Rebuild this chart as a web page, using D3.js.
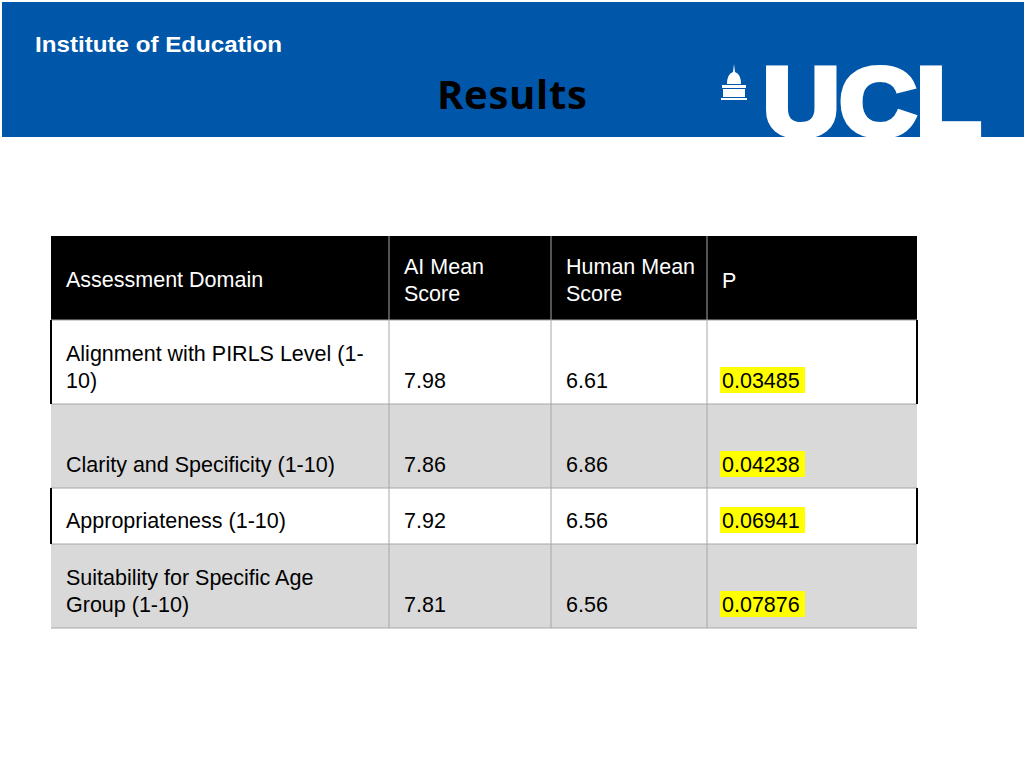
<!DOCTYPE html>
<html><head><meta charset="utf-8">
<script src="https://cdn.jsdelivr.net/npm/d3@7"></script>
<style>body{margin:0;background:#fff}</style>
</head><body><div id="vis"></div>
<script>
'use strict';

var headers = [["Assessment Domain"], ["AI Mean", "Score"], ["Human Mean", "Score"], ["P"]];
var domains = [["Alignment with PIRLS Level (1-", "10)"], ["Clarity and Specificity (1-10)"], ["Appropriateness (1-10)"], ["Suitability for Specific Age", "Group (1-10)"]];
var aiScores = [7.98, 7.86, 7.92, 7.81];
var humanScores = [6.61, 6.86, 6.56, 6.56];
var pValues = ["0.03485", "0.04238", "0.06941", "0.07876"];

var slide = {};
slide.w = 1024;
slide.h = 768;
slide.colEdges = [51, 389, 551, 707, 917];
slide.rowEdges = [236, 320, 404, 488, 544, 628];

slide.run = function() {
	var svg = d3.select("#vis").append("svg").attr("width", slide.w).attr("height", slide.h)
		.style("font-family", "'Liberation Sans', Arial, sans-serif");

	// banner
	svg.append("rect").attr("x", 2).attr("y", 2).attr("width", 1022).attr("height", 135).attr("fill", "#0056a8");
	svg.append("text").attr("x", 35).attr("y", 52).attr("fill", "#fff").attr("font-weight", "bold")
		.attr("font-size", 22).attr("textLength", 247).attr("lengthAdjust", "spacingAndGlyphs").text("Institute of Education");
	svg.append("text").attr("x", 512).attr("y", 109).attr("text-anchor", "middle").attr("font-weight", "bold")
		.attr("font-size", 40).attr("font-family", "'Open Sans', sans-serif").attr("textLength", 150).text("Results");
	// UCL wordmark
	svg.append("text").attr("x", 763).attr("y", 135).attr("fill", "#fff").attr("stroke", "#fff").attr("stroke-width", 6)
		.attr("font-weight", "bold").attr("font-size", 96).attr("textLength", 218).attr("lengthAdjust", "spacingAndGlyphs")
		.text("UCL");
	// small portico
	svg.append("path").attr("fill", "#fff")
		.attr("d", "M734,64 L735,72 Q741,74 741,84 L727,84 Q727,74 733,72 Z M722,85 L746,85 L746,88 L722,88 Z M723,89 L745,89 L745,97 L723,97 Z M721,98 L747,98 L747,100 L721,100 Z");

	// table
	var x = d3.scaleOrdinal().domain([0, 1, 2, 3]).range(slide.colEdges.slice(0, 4));
	var y = d3.scaleOrdinal().domain([0, 1, 2, 3, 4]).range(slide.rowEdges.slice(0, 5));
	var tw = slide.colEdges[4] - slide.colEdges[0];
	var fills = ["#000", "#fff", "#d9d9d9", "#fff", "#d9d9d9"];
	fills.forEach(function(f, i) {
		svg.append("rect").attr("x", slide.colEdges[0]).attr("y", y(i)).attr("width", tw)
			.attr("height", slide.rowEdges[i + 1] - slide.rowEdges[i]).attr("fill", f);
	});
	// grid lines
	[1, 2, 3].forEach(function(c) {
		svg.append("line").attr("x1", x(c)).attr("x2", x(c)).attr("y1", slide.rowEdges[0]).attr("y2", slide.rowEdges[5])
			.attr("stroke", "#a6a6a6").attr("stroke-width", 1);
	});
	[1, 2, 3, 4, 5].forEach(function(r) {
		svg.append("line").attr("x1", slide.colEdges[0]).attr("x2", slide.colEdges[4]).attr("y1", slide.rowEdges[r]).attr("y2", slide.rowEdges[r])
			.attr("stroke", "#a6a6a6").attr("stroke-width", 1);
	});
	// dark outer edges on white rows
	[1, 3].forEach(function(r) {
		[slide.colEdges[0], slide.colEdges[4]].forEach(function(xx) {
			svg.append("line").attr("x1", xx).attr("x2", xx).attr("y1", slide.rowEdges[r]).attr("y2", slide.rowEdges[r + 1])
				.attr("stroke", "#000").attr("stroke-width", 2);
		});
	});

	function cellText(lines, c, baseline, color) {
		var t = svg.append("text").attr("x", x(c) + 15).attr("fill", color).attr("font-size", 21.5);
		lines.forEach(function(l, i) { t.append("tspan").attr("x", x(c) + 15).attr("y", baseline + i * 27).text(l); });
		return t;
	}
	var headBase = [287, 274, 274, 288];
	headers.forEach(function(h, c) { cellText(h, c, headBase[c], "#fff"); });

	var bases = [388, 472, 528, 612];
	domains.forEach(function(d, i) {
		var b = bases[i];
		cellText(d, 0, b - (d.length - 1) * 27, "#000");
		cellText([aiScores[i].toFixed(2)], 1, b, "#000");
		cellText([humanScores[i].toFixed(2)], 2, b, "#000");
		svg.append("rect").attr("x", x(3) + 13).attr("y", b - 21).attr("width", 85).attr("height", 26).attr("fill", "#ffff00");
		cellText([pValues[i]], 3, b, "#000");
	});
};

window.onload = slide.run;
</script></body></html>
